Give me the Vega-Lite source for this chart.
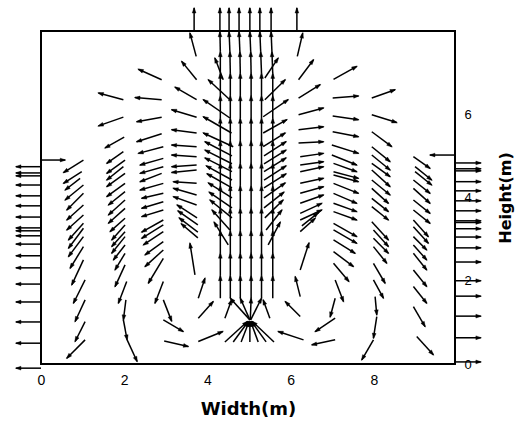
{
"$schema":"https://vega.github.io/schema/vega-lite/v6.json",
"width":414,"height":333,
"autosize":{"type":"none"},
"padding":{"left":41,"top":31,"right":68,"bottom":66},
"background":"white",
"config":{"view":{"stroke":"black","strokeWidth":2}},
"data":{"values":[
{"x":0,"y":4.74,"x2":-0.6,"y2":4.74},{"x":0,"y":4.59,"x2":-0.6,"y2":4.59},{"x":0,"y":4.52,"x2":-0.6,"y2":4.52},{"x":0,"y":4.30,"x2":-0.6,"y2":4.30},{"x":0,"y":4.04,"x2":-0.6,"y2":4.04},{"x":0,"y":3.80,"x2":-0.6,"y2":3.80},{"x":0,"y":3.53,"x2":-0.6,"y2":3.53},{"x":0,"y":3.27,"x2":-0.6,"y2":3.27},{"x":0,"y":3.20,"x2":-0.6,"y2":3.20},{"x":0,"y":3.08,"x2":-0.6,"y2":3.08},{"x":0,"y":2.88,"x2":-0.6,"y2":2.88},{"x":0,"y":2.60,"x2":-0.6,"y2":2.60},{"x":0,"y":2.31,"x2":-0.6,"y2":2.31},{"x":0,"y":1.92,"x2":-0.6,"y2":1.92},{"x":0,"y":1.49,"x2":-0.6,"y2":1.49},{"x":0,"y":1.01,"x2":-0.6,"y2":1.01},{"x":0,"y":0.50,"x2":-0.6,"y2":0.50},{"x":0,"y":-0.10,"x2":-0.6,"y2":-0.10},
{"x":0,"y":4.90,"x2":0.58,"y2":4.90},
{"x":9.95,"y":4.83,"x2":10.57,"y2":4.83},{"x":9.95,"y":4.69,"x2":10.57,"y2":4.69},{"x":9.95,"y":4.64,"x2":10.57,"y2":4.64},{"x":9.95,"y":4.38,"x2":10.57,"y2":4.38},{"x":9.95,"y":4.16,"x2":10.57,"y2":4.16},{"x":9.95,"y":3.92,"x2":10.57,"y2":3.92},{"x":9.95,"y":3.68,"x2":10.57,"y2":3.68},{"x":9.95,"y":3.44,"x2":10.57,"y2":3.44},{"x":9.95,"y":3.40,"x2":10.57,"y2":3.40},{"x":9.95,"y":3.25,"x2":10.57,"y2":3.25},{"x":9.95,"y":3.05,"x2":10.57,"y2":3.05},{"x":9.95,"y":2.79,"x2":10.57,"y2":2.79},{"x":9.95,"y":2.45,"x2":10.57,"y2":2.45},{"x":9.95,"y":2.0,"x2":10.57,"y2":2.0},{"x":9.95,"y":1.63,"x2":10.57,"y2":1.63},{"x":9.95,"y":1.15,"x2":10.57,"y2":1.15},{"x":9.95,"y":0.63,"x2":10.57,"y2":0.63},{"x":9.95,"y":0.05,"x2":10.57,"y2":0.05},
{"x":9.95,"y":5.02,"x2":9.35,"y2":5.02},
{"x":3.68,"y":8.0,"x2":3.68,"y2":8.55},{"x":4.30,"y":8.0,"x2":4.30,"y2":8.55},{"x":4.52,"y":8.0,"x2":4.52,"y2":8.55},{"x":4.76,"y":8.0,"x2":4.76,"y2":8.55},{"x":5.02,"y":8.0,"x2":5.02,"y2":8.55},{"x":5.26,"y":8.0,"x2":5.26,"y2":8.55},{"x":5.53,"y":8.0,"x2":5.53,"y2":8.55},{"x":6.15,"y":8.0,"x2":6.15,"y2":8.55},
{"x":1.02,"y":4.90,"x2":0.54,"y2":4.60},{"x":0.98,"y":4.62,"x2":0.54,"y2":4.34},{"x":0.94,"y":4.46,"x2":0.58,"y2":4.18},{"x":1.02,"y":4.30,"x2":0.58,"y2":3.94},{"x":1.02,"y":4.10,"x2":0.62,"y2":3.70},{"x":1.02,"y":3.82,"x2":0.62,"y2":3.46},{"x":1.02,"y":3.58,"x2":0.62,"y2":3.22},{"x":1.02,"y":3.38,"x2":0.66,"y2":2.98},{"x":1.02,"y":3.26,"x2":0.66,"y2":2.78},{"x":1.02,"y":3.06,"x2":0.66,"y2":2.58},{"x":1.02,"y":2.82,"x2":0.70,"y2":2.30},{"x":1.02,"y":2.50,"x2":0.74,"y2":1.90},{"x":1.06,"y":2.02,"x2":0.78,"y2":1.46},{"x":1.06,"y":1.54,"x2":0.82,"y2":1.02},{"x":1.06,"y":1.02,"x2":0.82,"y2":0.54},{"x":1.06,"y":0.58,"x2":0.62,"y2":0.14},
{"x":1.98,"y":6.35,"x2":1.38,"y2":6.51},{"x":1.98,"y":5.93,"x2":1.38,"y2":5.72},{"x":2.0,"y":5.45,"x2":1.54,"y2":5.19},{"x":1.98,"y":5.10,"x2":1.58,"y2":4.82},{"x":2.02,"y":4.90,"x2":1.58,"y2":4.58},{"x":1.98,"y":4.74,"x2":1.58,"y2":4.42},{"x":2.02,"y":4.58,"x2":1.58,"y2":4.26},{"x":2.02,"y":4.34,"x2":1.58,"y2":4.02},{"x":2.02,"y":4.14,"x2":1.62,"y2":3.82},{"x":2.02,"y":3.94,"x2":1.62,"y2":3.58},{"x":2.02,"y":3.74,"x2":1.62,"y2":3.38},{"x":2.02,"y":3.50,"x2":1.66,"y2":3.18},{"x":2.02,"y":3.34,"x2":1.70,"y2":2.98},{"x":2.02,"y":3.18,"x2":1.70,"y2":2.82},{"x":2.02,"y":3.06,"x2":1.70,"y2":2.66},{"x":2.02,"y":2.86,"x2":1.74,"y2":2.50},{"x":2.02,"y":2.66,"x2":1.78,"y2":2.26},{"x":2.02,"y":2.38,"x2":1.78,"y2":1.86},{"x":2.06,"y":1.98,"x2":1.86,"y2":1.46},{"x":2.04,"y":1.54,"x2":1.98,"y2":1.06},{"x":1.98,"y":1.06,"x2":2.07,"y2":0.58},{"x":2.07,"y":0.58,"x2":2.31,"y2":0.06},
{"x":2.90,"y":6.83,"x2":2.34,"y2":7.08},{"x":2.90,"y":6.35,"x2":2.26,"y2":6.40},{"x":2.90,"y":5.93,"x2":2.30,"y2":5.82},{"x":2.90,"y":5.53,"x2":2.30,"y2":5.34},{"x":2.94,"y":5.22,"x2":2.34,"y2":5.06},{"x":2.94,"y":4.94,"x2":2.38,"y2":4.78},{"x":2.94,"y":4.74,"x2":2.38,"y2":4.58},{"x":2.90,"y":4.58,"x2":2.38,"y2":4.38},{"x":2.94,"y":4.34,"x2":2.38,"y2":4.18},{"x":2.94,"y":4.10,"x2":2.42,"y2":3.98},{"x":2.94,"y":3.90,"x2":2.42,"y2":3.74},{"x":2.94,"y":3.70,"x2":2.42,"y2":3.54},{"x":2.94,"y":3.46,"x2":2.42,"y2":3.17},{"x":2.94,"y":3.34,"x2":2.42,"y2":3.02},{"x":2.94,"y":3.18,"x2":2.46,"y2":2.86},{"x":2.94,"y":2.94,"x2":2.50,"y2":2.62},{"x":2.94,"y":2.74,"x2":2.50,"y2":2.34},{"x":2.94,"y":2.54,"x2":2.58,"y2":1.94},{"x":2.94,"y":1.98,"x2":2.74,"y2":1.46},
{"x":2.94,"y":1.54,"x2":3.14,"y2":1.03},{"x":2.94,"y":1.06,"x2":3.42,"y2":0.78},{"x":2.96,"y":0.55,"x2":3.54,"y2":0.42},{"x":3.78,"y":0.54,"x2":4.37,"y2":0.78},{"x":3.78,"y":1.10,"x2":4.14,"y2":1.50},{"x":3.78,"y":1.58,"x2":3.94,"y2":2.06},{"x":3.70,"y":2.14,"x2":3.58,"y2":2.90},
{"x":3.73,"y":7.39,"x2":3.58,"y2":7.95},{"x":3.74,"y":6.83,"x2":3.38,"y2":7.27},{"x":3.74,"y":6.35,"x2":3.22,"y2":6.65},{"x":3.74,"y":5.93,"x2":3.14,"y2":6.11},{"x":3.74,"y":5.55,"x2":3.14,"y2":5.63},{"x":3.74,"y":5.22,"x2":3.14,"y2":5.26},{"x":3.74,"y":4.98,"x2":3.14,"y2":5.02},{"x":3.74,"y":4.78,"x2":3.14,"y2":4.74},{"x":3.74,"y":4.66,"x2":3.14,"y2":4.60},{"x":3.74,"y":4.34,"x2":3.18,"y2":4.38},{"x":3.74,"y":4.06,"x2":3.18,"y2":4.22},{"x":3.74,"y":3.82,"x2":3.18,"y2":4.02},{"x":3.75,"y":3.51,"x2":3.27,"y2":3.82},{"x":3.77,"y":3.34,"x2":3.29,"y2":3.68},{"x":3.77,"y":3.17,"x2":3.32,"y2":3.51},{"x":3.77,"y":3.03,"x2":3.37,"y2":3.37},
{"x":4.38,"y":6.83,"x2":4.18,"y2":7.35},{"x":4.54,"y":6.35,"x2":4.02,"y2":6.83},{"x":4.54,"y":5.91,"x2":3.90,"y2":6.35},{"x":4.58,"y":5.55,"x2":3.90,"y2":5.94},{"x":4.62,"y":5.22,"x2":3.90,"y2":5.55},{"x":4.59,"y":5.00,"x2":3.94,"y2":5.34},{"x":4.59,"y":4.81,"x2":3.94,"y2":5.14},{"x":4.59,"y":4.62,"x2":3.94,"y2":4.95},{"x":4.59,"y":4.42,"x2":3.97,"y2":4.76},{"x":4.59,"y":4.23,"x2":3.99,"y2":4.57},{"x":4.59,"y":3.99,"x2":4.02,"y2":4.35},{"x":4.59,"y":3.75,"x2":4.04,"y2":4.13},{"x":4.59,"y":3.51,"x2":4.06,"y2":3.94},{"x":4.54,"y":3.22,"x2":4.11,"y2":3.70},{"x":4.50,"y":2.86,"x2":4.16,"y2":3.41},
{"x":4.31,"y":1.58,"x2":4.31,"y2":2.12},{"x":4.31,"y":2.12,"x2":4.31,"y2":2.66},{"x":4.31,"y":2.66,"x2":4.31,"y2":3.20},{"x":4.31,"y":3.20,"x2":4.31,"y2":3.74},{"x":4.31,"y":3.74,"x2":4.31,"y2":4.28},{"x":4.31,"y":4.28,"x2":4.31,"y2":4.82},{"x":4.31,"y":4.82,"x2":4.31,"y2":5.36},{"x":4.31,"y":5.36,"x2":4.31,"y2":5.90},{"x":4.31,"y":5.90,"x2":4.31,"y2":6.44},{"x":4.31,"y":6.44,"x2":4.31,"y2":6.98},{"x":4.31,"y":6.98,"x2":4.31,"y2":7.50},{"x":4.31,"y":7.50,"x2":4.30,"y2":7.98},
{"x":4.55,"y":1.58,"x2":4.55,"y2":2.12},{"x":4.55,"y":2.12,"x2":4.55,"y2":2.66},{"x":4.55,"y":2.66,"x2":4.55,"y2":3.20},{"x":4.55,"y":3.20,"x2":4.55,"y2":3.74},{"x":4.55,"y":3.74,"x2":4.55,"y2":4.28},{"x":4.55,"y":4.28,"x2":4.55,"y2":4.82},{"x":4.55,"y":4.82,"x2":4.55,"y2":5.36},{"x":4.55,"y":5.36,"x2":4.55,"y2":5.90},{"x":4.55,"y":5.90,"x2":4.55,"y2":6.44},{"x":4.55,"y":6.44,"x2":4.55,"y2":6.98},{"x":4.55,"y":6.98,"x2":4.54,"y2":7.50},{"x":4.54,"y":7.50,"x2":4.52,"y2":7.98},
{"x":4.79,"y":1.58,"x2":4.79,"y2":2.12},{"x":4.79,"y":2.12,"x2":4.79,"y2":2.66},{"x":4.79,"y":2.66,"x2":4.79,"y2":3.20},{"x":4.79,"y":3.20,"x2":4.79,"y2":3.74},{"x":4.79,"y":3.74,"x2":4.79,"y2":4.28},{"x":4.79,"y":4.28,"x2":4.79,"y2":4.82},{"x":4.79,"y":4.82,"x2":4.79,"y2":5.36},{"x":4.79,"y":5.36,"x2":4.79,"y2":5.90},{"x":4.79,"y":5.90,"x2":4.79,"y2":6.44},{"x":4.79,"y":6.44,"x2":4.79,"y2":6.98},{"x":4.79,"y":6.98,"x2":4.78,"y2":7.50},{"x":4.78,"y":7.50,"x2":4.76,"y2":7.98},
{"x":5.05,"y":1.58,"x2":5.05,"y2":2.12},{"x":5.05,"y":2.12,"x2":5.05,"y2":2.66},{"x":5.05,"y":2.66,"x2":5.05,"y2":3.20},{"x":5.05,"y":3.20,"x2":5.05,"y2":3.74},{"x":5.05,"y":3.74,"x2":5.05,"y2":4.28},{"x":5.05,"y":4.28,"x2":5.05,"y2":4.82},{"x":5.05,"y":4.82,"x2":5.05,"y2":5.36},{"x":5.05,"y":5.36,"x2":5.05,"y2":5.90},{"x":5.05,"y":5.90,"x2":5.05,"y2":6.44},{"x":5.05,"y":6.44,"x2":5.05,"y2":6.98},{"x":5.05,"y":6.98,"x2":5.04,"y2":7.50},{"x":5.04,"y":7.50,"x2":5.02,"y2":7.98},
{"x":5.30,"y":1.58,"x2":5.30,"y2":2.12},{"x":5.30,"y":2.12,"x2":5.30,"y2":2.66},{"x":5.30,"y":2.66,"x2":5.30,"y2":3.20},{"x":5.30,"y":3.20,"x2":5.30,"y2":3.74},{"x":5.30,"y":3.74,"x2":5.30,"y2":4.28},{"x":5.30,"y":4.28,"x2":5.30,"y2":4.82},{"x":5.30,"y":4.82,"x2":5.30,"y2":5.36},{"x":5.30,"y":5.36,"x2":5.30,"y2":5.90},{"x":5.30,"y":5.90,"x2":5.30,"y2":6.44},{"x":5.30,"y":6.44,"x2":5.30,"y2":6.98},{"x":5.30,"y":6.98,"x2":5.28,"y2":7.50},{"x":5.28,"y":7.50,"x2":5.26,"y2":7.98},
{"x":5.57,"y":1.58,"x2":5.57,"y2":2.12},{"x":5.57,"y":2.12,"x2":5.57,"y2":2.66},{"x":5.57,"y":2.66,"x2":5.57,"y2":3.20},{"x":5.57,"y":3.20,"x2":5.57,"y2":3.74},{"x":5.57,"y":3.74,"x2":5.57,"y2":4.28},{"x":5.57,"y":4.28,"x2":5.57,"y2":4.82},{"x":5.57,"y":4.82,"x2":5.57,"y2":5.36},{"x":5.57,"y":5.36,"x2":5.57,"y2":5.90},{"x":5.57,"y":5.90,"x2":5.57,"y2":6.44},{"x":5.57,"y":6.44,"x2":5.57,"y2":6.98},{"x":5.57,"y":6.98,"x2":5.55,"y2":7.50},{"x":5.55,"y":7.50,"x2":5.53,"y2":7.98},
{"x":5.02,"y":1.06,"x2":4.55,"y2":1.58},{"x":5.02,"y":1.06,"x2":4.79,"y2":1.58},{"x":5.03,"y":1.06,"x2":5.05,"y2":1.58},{"x":5.04,"y":1.06,"x2":5.30,"y2":1.58},
{"x":4.42,"y":0.53,"x2":4.96,"y2":1.02},{"x":4.62,"y":0.53,"x2":4.98,"y2":1.02},{"x":4.81,"y":0.53,"x2":5.0,"y2":1.02},{"x":5.02,"y":0.53,"x2":5.02,"y2":1.02},{"x":5.22,"y":0.53,"x2":5.04,"y2":1.02},{"x":5.41,"y":0.53,"x2":5.06,"y2":1.02},{"x":5.60,"y":0.53,"x2":5.08,"y2":1.02},
{"x":4.42,"y":1.10,"x2":4.58,"y2":1.54},{"x":5.50,"y":1.10,"x2":5.34,"y2":1.54},
{"x":6.23,"y":1.62,"x2":6.11,"y2":2.10},{"x":6.23,"y":2.26,"x2":6.44,"y2":2.91},{"x":6.23,"y":1.14,"x2":5.87,"y2":1.50},{"x":6.31,"y":0.58,"x2":5.70,"y2":0.78},{"x":7.07,"y":0.58,"x2":6.51,"y2":0.46},{"x":7.07,"y":1.10,"x2":6.59,"y2":0.78},{"x":7.07,"y":1.58,"x2":6.95,"y2":1.13},
{"x":7.03,"y":6.84,"x2":7.59,"y2":7.15},{"x":7.01,"y":6.39,"x2":7.63,"y2":6.44},{"x":7.01,"y":5.96,"x2":7.63,"y2":5.87},{"x":7.01,"y":5.58,"x2":7.63,"y2":5.46},{"x":6.99,"y":5.26,"x2":7.63,"y2":5.06},{"x":6.99,"y":5.02,"x2":7.59,"y2":4.78},{"x":7.03,"y":4.82,"x2":7.59,"y2":4.62},{"x":7.03,"y":4.62,"x2":7.63,"y2":4.46},{"x":7.03,"y":4.54,"x2":7.63,"y2":4.38},{"x":7.03,"y":4.34,"x2":7.63,"y2":4.10},{"x":7.03,"y":4.10,"x2":7.59,"y2":3.86},{"x":7.03,"y":3.86,"x2":7.59,"y2":3.66},{"x":7.03,"y":3.66,"x2":7.59,"y2":3.46},{"x":7.03,"y":3.38,"x2":7.59,"y2":3.06},{"x":7.03,"y":3.22,"x2":7.59,"y2":2.90},{"x":7.03,"y":2.98,"x2":7.55,"y2":2.66},{"x":7.03,"y":2.70,"x2":7.51,"y2":2.34},{"x":7.03,"y":2.42,"x2":7.40,"y2":1.98},{"x":7.07,"y":2.02,"x2":7.27,"y2":1.50},
{"x":7.95,"y":6.39,"x2":8.51,"y2":6.59},{"x":7.95,"y":5.99,"x2":8.55,"y2":5.80},{"x":7.95,"y":5.58,"x2":8.43,"y2":5.22},{"x":7.95,"y":5.22,"x2":8.39,"y2":4.86},{"x":7.95,"y":5.02,"x2":8.39,"y2":4.66},{"x":7.95,"y":4.82,"x2":8.39,"y2":4.50},{"x":7.95,"y":4.66,"x2":8.39,"y2":4.26},{"x":7.95,"y":4.42,"x2":8.39,"y2":4.06},{"x":7.95,"y":4.22,"x2":8.35,"y2":3.86},{"x":7.95,"y":3.98,"x2":8.35,"y2":3.66},{"x":7.95,"y":3.78,"x2":8.35,"y2":3.46},{"x":7.95,"y":3.42,"x2":8.35,"y2":2.98},{"x":7.99,"y":3.22,"x2":8.35,"y2":2.82},{"x":7.99,"y":3.02,"x2":8.35,"y2":2.66},{"x":7.99,"y":2.82,"x2":8.31,"y2":2.42},{"x":7.99,"y":2.42,"x2":8.27,"y2":1.94},{"x":7.99,"y":2.02,"x2":8.23,"y2":1.58},{"x":8.03,"y":1.62,"x2":8.07,"y2":1.18},{"x":8.07,"y":1.14,"x2":7.99,"y2":0.62},{"x":7.99,"y":0.58,"x2":7.71,"y2":0.10},
{"x":8.95,"y":4.98,"x2":9.35,"y2":4.70},{"x":8.99,"y":4.74,"x2":9.39,"y2":4.42},{"x":8.99,"y":4.62,"x2":9.39,"y2":4.30},{"x":8.95,"y":4.42,"x2":9.35,"y2":4.10},{"x":8.95,"y":4.22,"x2":9.35,"y2":3.86},{"x":8.95,"y":3.94,"x2":9.35,"y2":3.62},{"x":8.95,"y":3.70,"x2":9.35,"y2":3.38},{"x":8.95,"y":3.46,"x2":9.31,"y2":3.06},{"x":8.95,"y":3.30,"x2":9.31,"y2":2.90},{"x":8.95,"y":3.06,"x2":9.27,"y2":2.74},{"x":8.95,"y":2.86,"x2":9.27,"y2":2.50},{"x":8.95,"y":2.66,"x2":9.27,"y2":2.26},{"x":8.95,"y":2.26,"x2":9.27,"y2":1.86},{"x":8.95,"y":1.86,"x2":9.27,"y2":1.46},{"x":8.95,"y":1.38,"x2":9.23,"y2":0.90},{"x":9.03,"y":0.66,"x2":9.43,"y2":0.22},
{"x":6.16,"y":7.39,"x2":6.29,"y2":7.95},{"x":6.19,"y":6.83,"x2":6.55,"y2":7.31},{"x":6.19,"y":6.39,"x2":6.71,"y2":6.71},{"x":6.19,"y":5.99,"x2":6.79,"y2":6.15},{"x":6.19,"y":5.63,"x2":6.79,"y2":5.70},{"x":6.19,"y":5.31,"x2":6.79,"y2":5.34},{"x":6.23,"y":4.98,"x2":6.79,"y2":5.06},{"x":6.23,"y":4.78,"x2":6.79,"y2":4.86},{"x":6.23,"y":4.62,"x2":6.79,"y2":4.74},{"x":6.23,"y":4.34,"x2":6.79,"y2":4.46},{"x":6.23,"y":4.10,"x2":6.79,"y2":4.26},{"x":6.23,"y":3.86,"x2":6.79,"y2":4.06},{"x":6.23,"y":3.62,"x2":6.75,"y2":3.86},{"x":6.23,"y":3.46,"x2":6.75,"y2":3.70},{"x":6.27,"y":3.32,"x2":6.66,"y2":3.63},{"x":6.23,"y":3.18,"x2":6.59,"y2":3.50},
{"x":5.38,"y":6.87,"x2":5.70,"y2":7.35},{"x":5.38,"y":6.35,"x2":5.87,"y2":6.83},{"x":5.34,"y":5.94,"x2":5.94,"y2":6.35},{"x":5.34,"y":5.55,"x2":5.91,"y2":5.87},{"x":5.34,"y":5.22,"x2":5.87,"y2":5.55},{"x":5.36,"y":5.00,"x2":5.89,"y2":5.34},{"x":5.36,"y":4.81,"x2":5.89,"y2":5.14},{"x":5.36,"y":4.62,"x2":5.89,"y2":4.95},{"x":5.36,"y":4.42,"x2":5.89,"y2":4.76},{"x":5.36,"y":4.23,"x2":5.89,"y2":4.57},{"x":5.36,"y":3.99,"x2":5.87,"y2":4.35},{"x":5.36,"y":3.75,"x2":5.84,"y2":4.13},{"x":5.38,"y":3.51,"x2":5.82,"y2":3.94},{"x":5.41,"y":3.22,"x2":5.79,"y2":3.70},{"x":5.46,"y":2.86,"x2":5.75,"y2":3.41}
]},
"transform":[{"calculate":"atan2(datum.x2 - datum.x, datum.y2 - datum.y) * 180 / PI","as":"ang"}],
"layer":[
{"mark":{"type":"rule","color":"black","strokeWidth":1.5},
 "encoding":{
  "x":{"field":"x","type":"quantitative","scale":{"domain":[0,9.95],"nice":false,"zero":false},
   "axis":{"values":[0,2,4,6,8],"domain":false,"ticks":false,"grid":false,"labelFlush":false,"labelFont":"Liberation Sans","labelFontSize":14,"labelColor":"black","labelPadding":9,"title":"Width(m)","titleFont":"DejaVu Sans","titleFontSize":18,"titleFontWeight":"bold","titleColor":"black","titlePadding":13}},
  "y":{"field":"y","type":"quantitative","scale":{"domain":[0,8],"nice":false,"zero":false},
   "axis":{"orient":"right","values":[0,2,4,6],"domain":false,"ticks":false,"grid":false,"labelFlush":false,"labelFont":"Liberation Sans","labelFontSize":13,"labelColor":"black","labelPadding":9,"title":"Height(m)","titleFont":"DejaVu Sans","titleFontSize":16,"titleFontWeight":"bold","titleColor":"black","titleAngle":270,"titleBaseline":"top","titlePadding":26}},
  "x2":{"field":"x2"},"y2":{"field":"y2"}}},
{"mark":{"type":"point","shape":"M0,-0.3L-0.85,2.2L0.85,2.2Z","filled":true,"size":20,"fill":"black","stroke":"black","strokeWidth":0.4,"opacity":1},
 "encoding":{
  "x":{"field":"x2","type":"quantitative","title":"Width(m)"},
  "y":{"field":"y2","type":"quantitative","title":"Height(m)"},
  "angle":{"field":"ang","type":"quantitative","scale":null}}}
]
}
